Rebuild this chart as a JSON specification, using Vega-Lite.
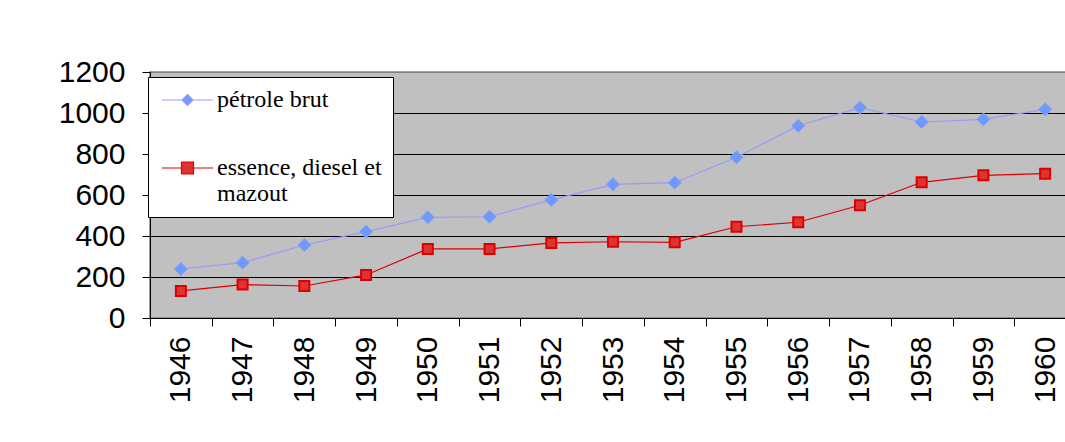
{
  "$schema": "https://vega.github.io/schema/vega-lite/v6.json",
  "width": 926,
  "height": 246,
  "autosize": {"type": "none"},
  "padding": {"left": 150, "top": 72, "right": 0, "bottom": 124},
  "background": "white",
  "config": {
    "view": {"fill": "#C0C0C0", "stroke": "#808080", "strokeWidth": 1.5},
    "axis": {
      "labelFont": "Liberation Sans",
      "labelFontSize": 30,
      "labelColor": "black",
      "tickColor": "black",
      "tickSize": 8,
      "domainColor": "black",
      "title": null
    },
    "legend": {
      "fillColor": "white",
      "strokeColor": "black",
      "padding": 11,
      "labelFont": "Liberation Serif",
      "labelFontSize": 24,
      "labelColor": "black",
      "labelLimit": 400,
      "labelOffset": 34,
      "symbolSize": 400,
      "symbolStrokeWidth": 1.2,
      "symbolOpacity": 1,
      "rowPadding": 44
    }
  },
  "data": {
    "values": [
      {"year": "1946", "series": "pétrole brut", "value": 239},
      {"year": "1947", "series": "pétrole brut", "value": 270},
      {"year": "1948", "series": "pétrole brut", "value": 356},
      {"year": "1949", "series": "pétrole brut", "value": 421},
      {"year": "1950", "series": "pétrole brut", "value": 491},
      {"year": "1951", "series": "pétrole brut", "value": 494},
      {"year": "1952", "series": "pétrole brut", "value": 576},
      {"year": "1953", "series": "pétrole brut", "value": 652},
      {"year": "1954", "series": "pétrole brut", "value": 660},
      {"year": "1955", "series": "pétrole brut", "value": 784},
      {"year": "1956", "series": "pétrole brut", "value": 938},
      {"year": "1957", "series": "pétrole brut", "value": 1026},
      {"year": "1958", "series": "pétrole brut", "value": 956},
      {"year": "1959", "series": "pétrole brut", "value": 969},
      {"year": "1960", "series": "pétrole brut", "value": 1018},
      {"year": "1946", "series": "essence, diesel et mazout", "value": 132},
      {"year": "1947", "series": "essence, diesel et mazout", "value": 163},
      {"year": "1948", "series": "essence, diesel et mazout", "value": 156},
      {"year": "1949", "series": "essence, diesel et mazout", "value": 210},
      {"year": "1950", "series": "essence, diesel et mazout", "value": 337},
      {"year": "1951", "series": "essence, diesel et mazout", "value": 337},
      {"year": "1952", "series": "essence, diesel et mazout", "value": 366},
      {"year": "1953", "series": "essence, diesel et mazout", "value": 372},
      {"year": "1954", "series": "essence, diesel et mazout", "value": 369},
      {"year": "1955", "series": "essence, diesel et mazout", "value": 445},
      {"year": "1956", "series": "essence, diesel et mazout", "value": 467},
      {"year": "1957", "series": "essence, diesel et mazout", "value": 550},
      {"year": "1958", "series": "essence, diesel et mazout", "value": 662},
      {"year": "1959", "series": "essence, diesel et mazout", "value": 696},
      {"year": "1960", "series": "essence, diesel et mazout", "value": 704}
    ]
  },
  "encoding": {
    "x": {
      "field": "year",
      "type": "ordinal",
      "scale": {"type": "band", "paddingInner": 0, "paddingOuter": 0},
      "axis": {"labelAngle": -90, "tickBand": "extent", "labelPadding": 10, "grid": false}
    },
    "y": {
      "field": "value",
      "type": "quantitative",
      "scale": {"domain": [0, 1200], "nice": false},
      "axis": {
        "values": [0, 200, 400, 600, 800, 1000, 1200],
        "format": "d",
        "labelPadding": 17,
        "grid": true,
        "gridColor": {"condition": {"test": "datum.value == 1200", "value": "#808080"}, "value": "black"},
        "gridOpacity": 1,
        "gridWidth": 1
      }
    }
  },
  "layer": [
    {
      "mark": {"type": "line", "strokeWidth": 1.2},
      "encoding": {
        "color": {
          "field": "series",
          "type": "nominal",
          "scale": {"range": ["#DD0000", "#9999FF"]},
          "legend": null
        }
      }
    },
    {
      "transform": [{"filter": "datum.series == 'pétrole brut'"}],
      "mark": {"type": "point", "shape": "diamond", "filled": true, "fill": "#6F99FF", "stroke": "#7F9FFF", "strokeWidth": 1, "opacity": 1, "size": 170}
    },
    {
      "transform": [{"filter": "datum.series != 'pétrole brut'"}],
      "mark": {"type": "point", "shape": "square", "filled": true, "fill": "#DD3333", "stroke": "#DD0000", "strokeWidth": 2, "opacity": 1, "size": 100}
    },
    {
      "mark": {"type": "point", "filled": true, "opacity": 0},
      "encoding": {
        "fill": {
          "field": "series",
          "type": "nominal",
          "scale": {"domain": ["pétrole brut", "essence, diesel et mazout"], "range": ["#6F99FF", "#DD3333"]},
          "legend": {"orient": "none", "legendX": -2, "legendY": 5, "title": null, "labelExpr": "datum.label == 'essence, diesel et mazout' ? ['essence, diesel et', 'mazout'] : datum.label"}
        },
        "stroke": {
          "field": "series",
          "type": "nominal",
          "scale": {"domain": ["pétrole brut", "essence, diesel et mazout"], "range": ["#9999FF", "#DD0000"]},
          "legend": {"orient": "none", "legendX": -2, "legendY": 5, "title": null, "labelExpr": "datum.label == 'essence, diesel et mazout' ? ['essence, diesel et', 'mazout'] : datum.label"}
        },
        "shape": {
          "field": "series",
          "type": "nominal",
          "scale": {
            "domain": ["pétrole brut", "essence, diesel et mazout"],
            "range": [
              "M-0.9,0H1.1M2.2,0H4.2M1.65,-0.55L2.2,0L1.65,0.55L1.1,0Z",
              "M-0.9,0H1.05M2.25,0H4.2M1.05,-0.6H2.25V0.6H1.05Z"
            ]
          },
          "legend": {"orient": "none", "legendX": -2, "legendY": 5, "title": null, "labelExpr": "datum.label == 'essence, diesel et mazout' ? ['essence, diesel et', 'mazout'] : datum.label"}
        }
      }
    }
  ]
}
